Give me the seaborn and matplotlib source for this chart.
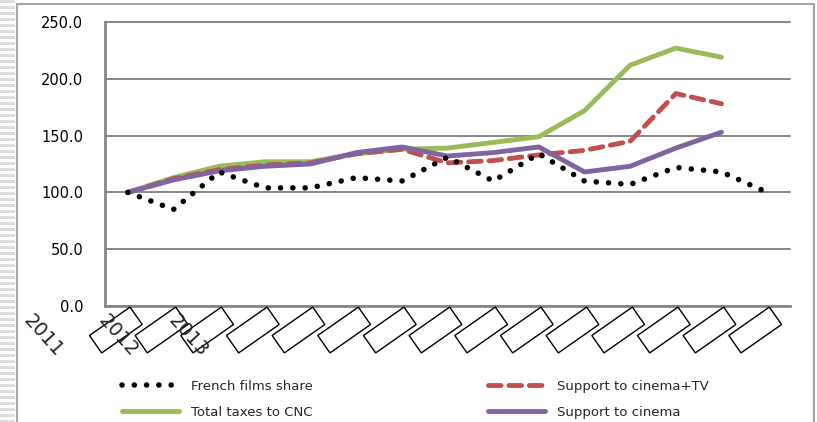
import matplotlib
matplotlib.use("Agg")
import numpy as np
import pandas as pd
import seaborn as sns
import matplotlib.pyplot as plt
import matplotlib.transforms as mtransforms
from matplotlib.patches import Rectangle

# ---------------- data ----------------
x_labels = ["2011", "2012", "2013"] + [""] * 12
french_films_share = [100, 85, 118, 104, 104, 113, 110, 131, 110, 134, 110, 107, 122, 118, 100]
total_taxes_cnc = [100, 113, 123, 127, 127, 134, 138, 139, 144, 149, 172, 212, 227, 219, np.nan]
support_cinema_tv = [100, 112, 120, 124, 126, 134, 138, 126, 128, 133, 137, 145, 187, 178, np.nan]
support_cinema = [100, 111, 119, 123, 125, 135, 140, 132, 135, 140, 118, 123, 139, 153, np.nan]
y_ticks = [0, 50, 100, 150, 200, 250]

idx = np.arange(len(x_labels))

sns.set_style("white")
plt.rcParams["font.family"] = ["DejaVu Sans"]

W, H = 817, 422
fig = plt.figure(figsize=(W / 100, H / 100), dpi=100)

# outer striped strip and frame (Excel-like)
for yy in range(0, H, 6):
    fig.add_artist(Rectangle((0, 1 - (yy + 3) / H), 15 / W, 3 / H, transform=fig.transFigure,
                             fc="#dcdcdc", ec="none", zorder=0))
fig.add_artist(Rectangle((17 / W, -0.2), (814 - 17) / W, 1.2 - 4 / H, transform=fig.transFigure,
                         fill=False, ec="#a6a6a6", lw=1.5, zorder=1))

ax = fig.add_axes([105 / W, 1 - 306 / H, (790 - 105) / W, 284 / H])

GREEN, RED, PURPLE = "#9BBB59", "#C0504D", "#8064A2"

sns.lineplot(x=idx, y=total_taxes_cnc, ax=ax, color=GREEN, lw=3.5, label="Total taxes to CNC",
             solid_capstyle="round", zorder=3)
sns.lineplot(x=idx, y=support_cinema_tv, ax=ax, color=RED, lw=3.5, label="Support to cinema+TV",
             linestyle=(0, (2.6, 1.6)), dash_capstyle="round", zorder=4)
sns.lineplot(x=idx, y=support_cinema, ax=ax, color=PURPLE, lw=3.5, label="Support to cinema",
             solid_capstyle="round", zorder=5)
sns.lineplot(x=idx, y=french_films_share, ax=ax, color="black", lw=4.0, label="French films share",
             linestyle=(0, (0.01, 2.2)), dash_capstyle="round", zorder=6)

ax.set_xlim(-0.5, len(x_labels) - 0.5)
ax.set_ylim(0, 250)
ax.set_yticks(y_ticks)
ax.set_yticklabels([f"{v:.1f}" for v in y_ticks])
ax.set_xticks([])
ax.set_xticks(np.arange(-0.5, len(x_labels), 1), minor=True)
ax.set_xlabel("")
ax.set_ylabel("")

ax.yaxis.grid(True, color="#878787", lw=1.4)
for gl in ax.get_ygridlines():
    gl.set_clip_on(False)
ax.set_axisbelow(True)

for s in ["top", "right"]:
    ax.spines[s].set_visible(False)
for s in ["left", "bottom"]:
    ax.spines[s].set_color("#878787")
    ax.spines[s].set_linewidth(2)

ax.tick_params(axis="y", which="major", length=6.5, width=1.4, color="#878787",
               labelsize=10.5, pad=9, labelcolor="black")
ax.tick_params(axis="x", which="minor", length=3, width=1.6, color="#878787", direction="out")

# blank category label boxes
box_trans = mtransforms.blended_transform_factory(ax.transData, ax.transAxes) + \
    mtransforms.ScaledTranslation(-0.12, 0, fig.dpi_scale_trans)
for i in idx:
    ax.text(i, -0.0845, " " * 11, rotation=35, rotation_mode="anchor", ha="center", va="center",
            fontsize=8.5, transform=box_trans, clip_on=False,
            bbox=dict(boxstyle="square,pad=0.35", fc="none", ec="black", lw=1))

# year labels (drawn askew as in the original)
year_trans = mtransforms.blended_transform_factory(ax.transData, ax.transAxes)
year_pos = [-1.85, -0.22, 1.33]
for lab, xp in zip([l for l in x_labels if l], year_pos):
    ax.text(xp, -0.105, lab, rotation=-48, rotation_mode="anchor", ha="center", va="center",
            fontsize=14, transform=year_trans, clip_on=False)

# legend
if ax.get_legend() is not None:
    ax.get_legend().remove()
lines = {l.get_label(): l for l in ax.get_lines()}
order = ["French films share", "Total taxes to CNC", "Support to cinema+TV", "Support to cinema"]
handles = [lines[o] for o in order]
leg = fig.legend(handles, order, ncol=2, loc="upper left", frameon=False,
                 bbox_to_anchor=(122 / W, 1 - 380 / H), borderaxespad=0, borderpad=0,
                 handlelength=4.3, handletextpad=0.9, columnspacing=13.3, labelspacing=0.95,
                 prop={"family": "DejaVu Sans", "size": 9.5})

fig.savefig("out.png", dpi=100)
